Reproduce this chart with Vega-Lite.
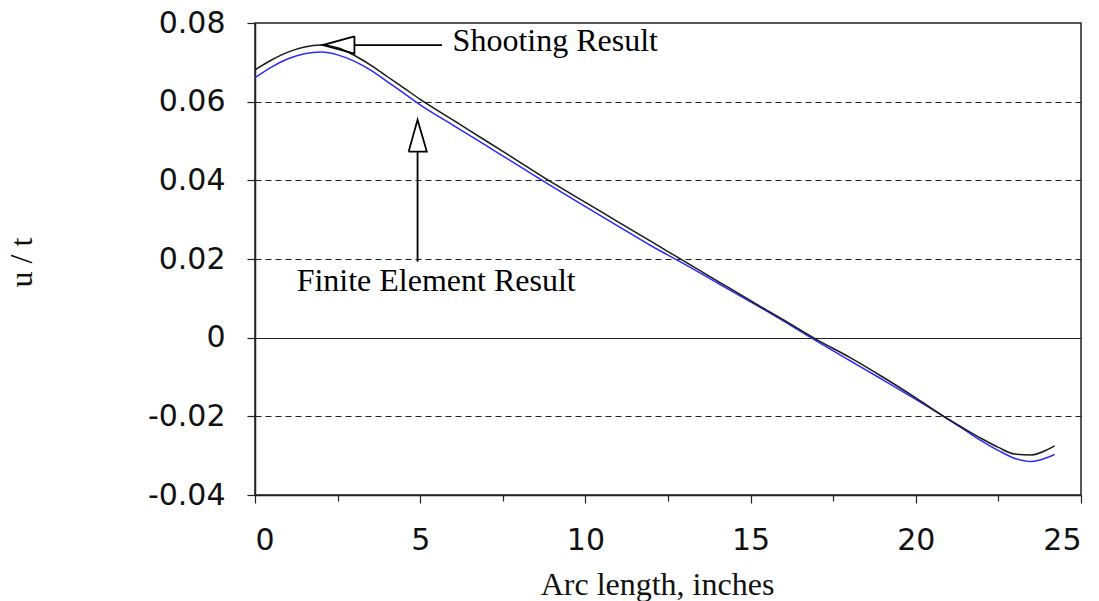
{
  "$schema": "https://vega.github.io/schema/vega-lite/v6.json",
  "autosize": "none",
  "padding": {"left": 255, "top": 23, "right": 18, "bottom": 106},
  "width": 826,
  "height": 472,
  "background": "white",
  "config": {
    "view": {"stroke": "#222", "strokeWidth": 1.5},
    "axis": {"domainColor": "#222", "domainWidth": 1.5, "tickColor": "#222", "tickWidth": 1.2, "labelColor": "#111", "titleColor": "#111"}
  },
  "datasets": {
    "curves": [
      {"s": 0, "u": 0.0681, "series": "Shooting"},
      {"s": 0.5, "u": 0.0706, "series": "Shooting"},
      {"s": 1, "u": 0.0726, "series": "Shooting"},
      {"s": 1.5, "u": 0.0739, "series": "Shooting"},
      {"s": 2, "u": 0.0744, "series": "Shooting"},
      {"s": 2.5, "u": 0.0737, "series": "Shooting"},
      {"s": 3, "u": 0.0718, "series": "Shooting"},
      {"s": 3.5, "u": 0.0693, "series": "Shooting"},
      {"s": 4, "u": 0.0664, "series": "Shooting"},
      {"s": 4.5, "u": 0.0635, "series": "Shooting"},
      {"s": 5, "u": 0.0606, "series": "Shooting"},
      {"s": 6, "u": 0.0553, "series": "Shooting"},
      {"s": 7, "u": 0.05, "series": "Shooting"},
      {"s": 8, "u": 0.0447, "series": "Shooting"},
      {"s": 9, "u": 0.0394, "series": "Shooting"},
      {"s": 10, "u": 0.0344, "series": "Shooting"},
      {"s": 11, "u": 0.0294, "series": "Shooting"},
      {"s": 12, "u": 0.0244, "series": "Shooting"},
      {"s": 13, "u": 0.0194, "series": "Shooting"},
      {"s": 14, "u": 0.0144, "series": "Shooting"},
      {"s": 15, "u": 0.0094, "series": "Shooting"},
      {"s": 16, "u": 0.0045, "series": "Shooting"},
      {"s": 17, "u": -0.0005, "series": "Shooting"},
      {"s": 18, "u": -0.005, "series": "Shooting"},
      {"s": 19, "u": -0.01, "series": "Shooting"},
      {"s": 20, "u": -0.0153, "series": "Shooting"},
      {"s": 21, "u": -0.0208, "series": "Shooting"},
      {"s": 21.5, "u": -0.0233, "series": "Shooting"},
      {"s": 22, "u": -0.0257, "series": "Shooting"},
      {"s": 22.5, "u": -0.0279, "series": "Shooting"},
      {"s": 23, "u": -0.0296, "series": "Shooting"},
      {"s": 23.5, "u": -0.0298, "series": "Shooting"},
      {"s": 24, "u": -0.0284, "series": "Shooting"},
      {"s": 24.2, "u": -0.0275, "series": "Shooting"},
      {"s": 0, "u": 0.0661, "series": "FE"},
      {"s": 0.5, "u": 0.0688, "series": "FE"},
      {"s": 1, "u": 0.0709, "series": "FE"},
      {"s": 1.5, "u": 0.0722, "series": "FE"},
      {"s": 2, "u": 0.0726, "series": "FE"},
      {"s": 2.5, "u": 0.0719, "series": "FE"},
      {"s": 3, "u": 0.0703, "series": "FE"},
      {"s": 3.5, "u": 0.068, "series": "FE"},
      {"s": 4, "u": 0.0651, "series": "FE"},
      {"s": 4.5, "u": 0.0622, "series": "FE"},
      {"s": 5, "u": 0.0592, "series": "FE"},
      {"s": 6, "u": 0.054, "series": "FE"},
      {"s": 7, "u": 0.0488, "series": "FE"},
      {"s": 8, "u": 0.0436, "series": "FE"},
      {"s": 9, "u": 0.0384, "series": "FE"},
      {"s": 10, "u": 0.0333, "series": "FE"},
      {"s": 11, "u": 0.0283, "series": "FE"},
      {"s": 12, "u": 0.0233, "series": "FE"},
      {"s": 13, "u": 0.0187, "series": "FE"},
      {"s": 14, "u": 0.0139, "series": "FE"},
      {"s": 15, "u": 0.0091, "series": "FE"},
      {"s": 16, "u": 0.0042, "series": "FE"},
      {"s": 17, "u": -0.0009, "series": "FE"},
      {"s": 18, "u": -0.0058, "series": "FE"},
      {"s": 19, "u": -0.0107, "series": "FE"},
      {"s": 20, "u": -0.0157, "series": "FE"},
      {"s": 21, "u": -0.0209, "series": "FE"},
      {"s": 21.5, "u": -0.0236, "series": "FE"},
      {"s": 22, "u": -0.0263, "series": "FE"},
      {"s": 22.5, "u": -0.0287, "series": "FE"},
      {"s": 23, "u": -0.0307, "series": "FE"},
      {"s": 23.5, "u": -0.0315, "series": "FE"},
      {"s": 24, "u": -0.0304, "series": "FE"},
      {"s": 24.2, "u": -0.0297, "series": "FE"}
    ],
    "arrows": [
      {"part": "h_tri", "o": 1, "s": 3.01, "u": 0.0766},
      {"part": "h_tri", "o": 2, "s": 2.05, "u": 0.0744},
      {"part": "h_tri", "o": 3, "s": 3.01, "u": 0.0722},
      {"part": "h_tri", "o": 4, "s": 3.01, "u": 0.0766},
      {"part": "h_shaft", "o": 1, "s": 3.01, "u": 0.0744},
      {"part": "h_shaft", "o": 2, "s": 5.66, "u": 0.0744},
      {"part": "v_tri", "o": 1, "s": 4.65, "u": 0.0473},
      {"part": "v_tri", "o": 2, "s": 4.92, "u": 0.0554},
      {"part": "v_tri", "o": 3, "s": 5.2, "u": 0.0473},
      {"part": "v_tri", "o": 4, "s": 4.65, "u": 0.0473},
      {"part": "v_shaft", "o": 1, "s": 4.92, "u": 0.0473},
      {"part": "v_shaft", "o": 2, "s": 4.92, "u": 0.0193}
    ],
    "labels": [
      {"s": 5.98, "u": 0.073, "text": "Shooting Result"},
      {"s": 1.26, "u": 0.01195, "text": "Finite Element Result"}
    ]
  },
  "layer": [
    {
      "data": {"name": "curves"},
      "transform": [{"filter": "datum.series === 'FE'"}],
      "mark": {"type": "line", "color": "#2a2aff", "strokeWidth": 1.5, "interpolate": "monotone"},
      "encoding": {
        "x": {
          "field": "s", "type": "quantitative",
          "scale": {"domain": [0, 25], "nice": false, "zero": false},
          "axis": {
            "values": [0, 2.5, 5, 7.5, 10, 12.5, 15, 17.5, 20, 22.5, 25],
            "labelExpr": "datum.value % 5 === 0 ? datum.label : ''",
            "tickSize": {"condition": {"test": "datum.value % 5 === 0", "value": 8}, "value": 6},
            "grid": false,
            "labelFont": "DejaVu Sans", "labelFontSize": 30, "labelPadding": 22,
            "title": "Arc length, inches",
            "titleFont": "Liberation Serif", "titleFontSize": 32, "titleFontWeight": "normal",
            "titleX": 402, "titleY": 99, "titleBaseline": "alphabetic", "titleAlign": "center"
          }
        },
        "y": {
          "field": "u", "type": "quantitative",
          "scale": {"domain": [-0.04, 0.08], "nice": false, "zero": false},
          "axis": {
            "values": [-0.04, -0.03, -0.02, -0.01, 0, 0.01, 0.02, 0.03, 0.04, 0.05, 0.06, 0.07, 0.08],
            "labelExpr": "abs(round(datum.value * 100)) % 2 === 0 ? (datum.value === 0 ? '0' : replace(format(datum.value, '.2f'), '\u2212', '-')) : ''",
            "tickSize": {"condition": {"test": "abs(round(datum.value * 100)) % 2 === 0", "value": 8}, "value": 5},
            "grid": true,
            "gridColor": "#222",
            "gridWidth": 1,
            "gridOpacity": {"condition": {"test": "indexof([0.06, 0.04, 0.02, 0, -0.02], datum.value) >= 0", "value": 1}, "value": 0},
            "gridDash": {"condition": {"test": "datum.value === 0", "value": []}, "value": [6, 4]},
            "labelFont": "DejaVu Sans", "labelFontSize": 30, "labelPadding": 22,
            "title": "u / t",
            "titleFont": "Liberation Serif", "titleFontSize": 32, "titleFontWeight": "normal",
            "titleAngle": -90, "titleX": -224, "titleY": 239, "titleBaseline": "alphabetic", "titleAlign": "center"
          }
        }
      }
    },
    {
      "data": {"name": "curves"},
      "transform": [{"filter": "datum.series === 'Shooting'"}],
      "mark": {"type": "line", "color": "#1a1a1a", "strokeWidth": 1.5, "interpolate": "monotone"},
      "encoding": {
        "x": {"field": "s", "type": "quantitative"},
        "y": {"field": "u", "type": "quantitative"}
      }
    },
    {
      "data": {"name": "arrows"},
      "mark": {"type": "line", "color": "#000", "strokeWidth": 1.8},
      "encoding": {
        "x": {"field": "s", "type": "quantitative"},
        "y": {"field": "u", "type": "quantitative"},
        "detail": {"field": "part"},
        "order": {"field": "o", "type": "quantitative"}
      }
    },
    {
      "data": {"name": "labels"},
      "mark": {"type": "text", "font": "Liberation Serif", "fontSize": 32, "align": "left", "baseline": "alphabetic", "color": "#000"},
      "encoding": {
        "x": {"field": "s", "type": "quantitative"},
        "y": {"field": "u", "type": "quantitative"},
        "text": {"field": "text"}
      }
    }
  ]
}
